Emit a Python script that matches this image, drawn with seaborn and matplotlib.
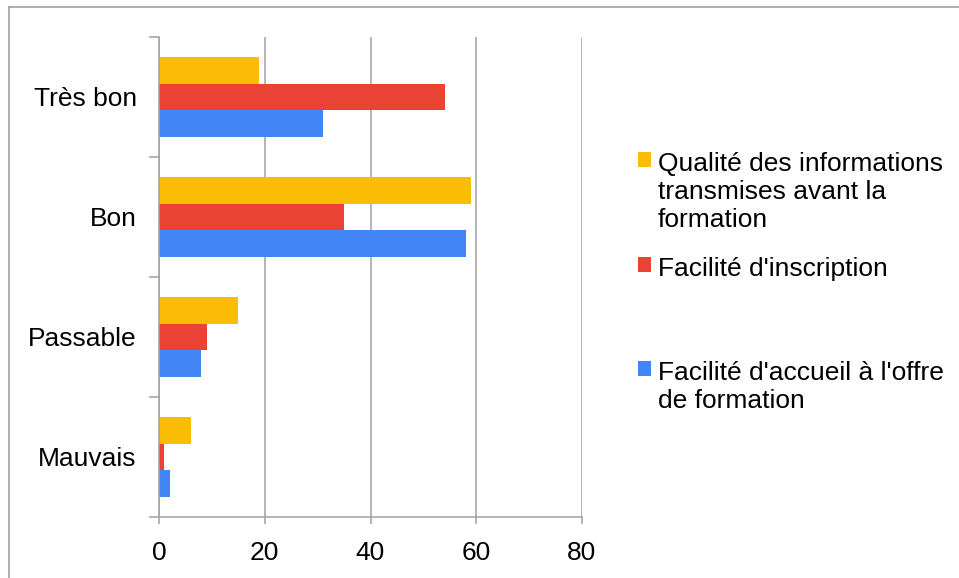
import pandas as pd
import numpy as np
import matplotlib.pyplot as plt
import seaborn as sns
from matplotlib.patches import Patch
from matplotlib.lines import Line2D

categories = ['Très bon', 'Bon', 'Passable', 'Mauvais']
series = [
    'Qualité des informations\ntransmises avant la\nformation',
    "Facilité d'inscription",
    "Facilité d'accueil à l'offre\nde formation",
]
qualite = [19, 59, 15, 6]
inscription = [54, 35, 9, 1]
accueil = [31, 58, 8, 2]
colors = ['#FBBC05', '#EA4335', '#4285F4']

data = pd.DataFrame({
    'Categorie': categories * 3,
    'Serie': [series[0]] * 4 + [series[1]] * 4 + [series[2]] * 4,
    'Valeur': qualite + inscription + accueil,
})

sns.set_style('white')
plt.rcParams['font.family'] = ['Liberation Sans', 'DejaVu Sans']
plt.rcParams['text.color'] = 'black'
plt.rcParams['xtick.labelcolor'] = 'black'
plt.rcParams['ytick.labelcolor'] = 'black'

fig = plt.figure(figsize=(9.59, 5.78), dpi=100)
ax = fig.add_axes([159 / 959, 1 - 517 / 578, (582 - 159) / 959, (517 - 37) / 578])

sns.barplot(data=data, x='Valeur', y='Categorie', hue='Serie', order=categories,
            hue_order=series, palette=colors, orient='h', width=0.667,
            linewidth=0, saturation=1, ax=ax, legend=False)

grey = '#A0A0A0'
ax.set_xlim(0, 80)
ax.set_ylim(3.5, -0.5)
ax.set_xticks([0, 20, 40, 60, 80])
ax.xaxis.grid(True, color=grey, linewidth=1.1)
ax.yaxis.grid(False)
ax.set_axisbelow(True)
ax.set_xlabel('')
ax.set_ylabel('')

for side in ['top', 'right']:
    ax.spines[side].set_visible(False)
for side in ['left', 'bottom']:
    ax.spines[side].set_color(grey)
    ax.spines[side].set_linewidth(1.1)

ax.tick_params(axis='x', which='major', direction='out', length=5, width=1.1,
               color=grey, labelsize=19, pad=12, bottom=True, labelcolor='black')
ax.tick_params(axis='y', which='major', length=0, labelsize=19, pad=16, left=True,
               labelcolor='black')
ax.set_yticks(np.arange(-0.5, 4.0, 1.0), minor=True)
ax.tick_params(axis='y', which='minor', direction='out', length=7, width=1.1,
               color=grey, left=True)

# legend entries, one per series, laid out like the original
legend_y = [0.737, 0.555, 0.375]
for name, col, ly in zip(series, colors, legend_y):
    leg = fig.legend(handles=[Patch(facecolor=col, edgecolor='none', label=name)],
                     loc='upper left', bbox_to_anchor=(0.6655, ly), frameon=False,
                     fontsize=19, handlelength=0.5, handleheight=0.5,
                     handletextpad=0.25, borderaxespad=0, borderpad=0)
    for t in leg.get_texts():
        t.set_linespacing(1.2)
        t.set_color('black')
    # put the square next to the first line, as in the original
    for column in leg._legend_handle_box.get_children():
        for row in column.get_children():
            row.align = 'top'

# outer frame
fig.add_artist(Line2D([9 / 959, 9 / 959], [0, 1 - 7 / 578], color=grey, linewidth=1.2))
fig.add_artist(Line2D([9 / 959, 1], [1 - 7 / 578, 1 - 7 / 578], color=grey, linewidth=1.2))

fig.savefig('out.png', dpi=100)
